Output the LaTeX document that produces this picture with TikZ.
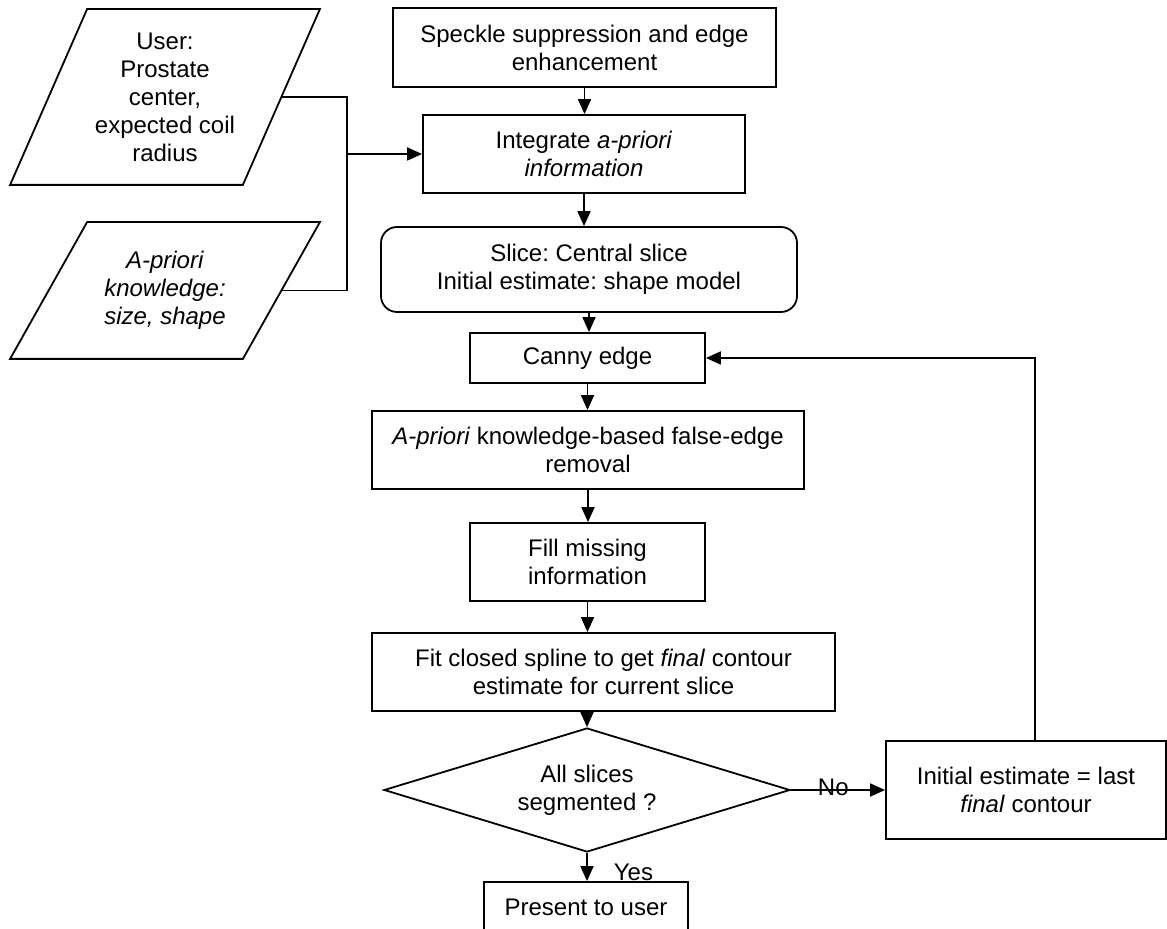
\documentclass[tikz,border=0pt]{standalone}
\usepackage{fontspec}
\setmainfont{Liberation Sans}
\frenchspacing
\usetikzlibrary{shapes.geometric,arrows.meta}

\begin{document}
\begin{tikzpicture}[x=0.5pt, y=-0.5pt, line width=0.9pt,
    font=\fontsize{12}{14}\selectfont,
    box/.style={draw, rectangle, align=center, inner sep=0pt},
    inbox/.style={rectangle, align=center, inner sep=0pt, minimum width=231*\px},
    arr/.style={-{Triangle[length=7.5pt, width=6.5pt]}}]
    \def\px{0.5pt}
    \def\slant{19.25pt}
    \useasboundingbox (0,0) rectangle (1167,929);
    \clip (0,0) rectangle (1167,929);
    % Eingaben
    \node[inbox, minimum height=174*\px] (user) at (165,97)
        {User:\\Prostate\\center,\\expected coil\\radius};
    \node[inbox, minimum height=135*\px] (apri) at (165,290.5)
        {\textit{A-priori}\\\textit{knowledge:}\\\textit{size, shape}};
    \foreach \n in {user, apri}
        \draw ([xshift=\slant]\n.north west) -- ([xshift=\slant]\n.north east)
            -- ([xshift=-\slant]\n.south east) -- ([xshift=-\slant]\n.south west) -- cycle;
    % Hauptkette
    \node[box, minimum width=383*\px, minimum height=79*\px] (speckle) at (584.5,47.5)
        {Speckle suppression and edge\\enhancement};
    \node[box, minimum width=322*\px, minimum height=78*\px] (integ) at (584,154)
        {Integrate \textit{a-priori}\\\textit{information}};
    \node[box, rounded corners=8pt, minimum width=416*\px, minimum height=85*\px] (slice) at (589,269.5)
        {Slice: Central slice\\Initial estimate: shape model};
    \node[box, minimum width=235*\px, minimum height=50*\px] (canny) at (587.5,358) {Canny edge};
    \node[box, minimum width=432*\px, minimum height=78*\px] (false) at (588,450)
        {\textit{A-priori} knowledge-based false-edge\\removal};
    \node[box, minimum width=235*\px, minimum height=78*\px] (fill) at (587.5,562)
        {Fill missing\\information};
    \node[box, minimum width=463*\px, minimum height=78*\px] (fit) at (603.5,672)
        {Fit closed spline to get \textit{final} contour\\estimate for current slice};
    \node[draw, diamond, aspect=3.27, inner sep=0pt, align=center,
        minimum width=406*\px, minimum height=124*\px] (dia) at (587,790)
        {All slices\\segmented ?};
    \node[box, minimum width=280*\px, minimum height=98*\px] (init) at (1026,790)
        {Initial estimate = last\\\textit{final} contour};
    \node[box, minimum width=204*\px, minimum height=50*\px] (present) at (586,907) {Present to user};
    % Verbindungen
    \coordinate (join) at (347,154);
    \draw (user.east) -| (join) |- (apri.east);
    \draw[arr] (join) -- (integ.west);
    \foreach \a/\b in {speckle/integ, integ/slice, slice/canny, canny/false, false/fill, fill/fit}
        \draw[arr] (\a.south) -- (\a.south |- \b.north);
    \draw[arr] (fit.south -| dia.north) -- (dia.north);
    \draw[arr] (dia.south) -- (dia.south |- present.north)
        node[pos=0.7, right=13pt, inner sep=0pt] (yes) {Yes};
    \draw[arr] (dia.east) -- (init.west)
        node[pos=0.45, yshift=1.5pt, inner sep=0pt] (no) {No};
    % Schleife
    \draw[arr] ([xshift=4.5pt]init.north) |- (canny.east);
\end{tikzpicture}
\end{document}
